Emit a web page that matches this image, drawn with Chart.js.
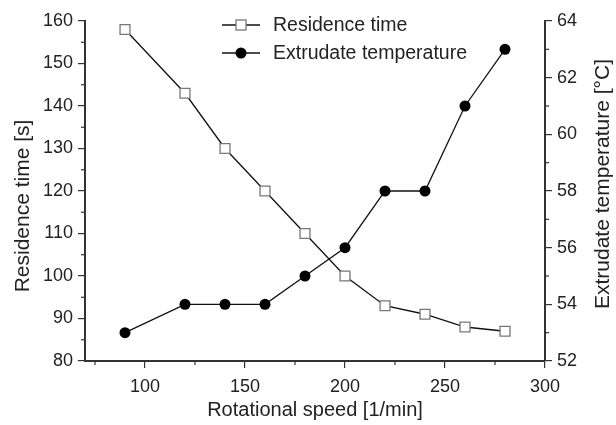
<!DOCTYPE html>
<html>
<head>
<meta charset="utf-8">
<script src="https://cdn.jsdelivr.net/npm/chart.js@4/dist/chart.umd.min.js"></script>
<style>
  html, body { margin: 0; padding: 0; background: #fff; }
  #wrap { width: 616px; height: 425px; }
</style>
</head>
<body>
<div id="wrap"><canvas id="chart" width="616" height="425"></canvas></div>
<script>
// Données
const speeds = [90, 120, 140, 160, 180, 200, 220, 240, 260, 280];
const residenceTime = [158, 143, 130, 120, 110, 100, 93, 91, 88, 87];
const extrudateTemp = [53, 54, 54, 54, 55, 56, 58, 58, 61, 63];

const xTicks = [100, 150, 200, 250, 300];
const leftTicks = [80, 90, 100, 110, 120, 130, 140, 150, 160];
const rightTicks = [52, 54, 56, 58, 60, 62, 64];

const FONT = "'Liberation Sans', Arial, sans-serif";
const INK = '#222';

// petites graduations entre les grandes
const minorTicks = {
    id: 'minorTicks',
    afterDraw(chart) {
        const ctx = chart.ctx;
        const area = chart.chartArea;
        ctx.save();
        ctx.strokeStyle = '#333';
        ctx.lineWidth = 1.2;
        const draw = (scale, ticks, dir) => {
            const step = ticks[1] - ticks[0];
            for (let v = ticks[0] - step / 2; v <= scale.max; v += step) {
                if (v < scale.min) continue;
                const p = scale.getPixelForValue(v);
                ctx.beginPath();
                if (dir === 'bottom') {
                    ctx.moveTo(p, area.bottom);
                    ctx.lineTo(p, area.bottom + 4);
                } else if (dir === 'left') {
                    ctx.moveTo(area.left, p);
                    ctx.lineTo(area.left - 4, p);
                } else {
                    ctx.moveTo(area.right, p);
                    ctx.lineTo(area.right + 4, p);
                }
                ctx.stroke();
            }
        };
        draw(chart.scales.x, xTicks, 'bottom');
        draw(chart.scales.y, leftTicks, 'left');
        draw(chart.scales.y1, rightTicks, 'right');
        ctx.restore();
    }
};

// titres verticaux (les deux se lisent de bas en haut)
const sideTitles = {
    id: 'sideTitles',
    afterDraw(chart) {
        const ctx = chart.ctx;
        const put = (text, x, y) => {
            ctx.save();
            ctx.translate(x, y);
            ctx.rotate(-Math.PI / 2);
            ctx.fillStyle = INK;
            ctx.font = '21px ' + FONT;
            ctx.textAlign = 'center';
            ctx.textBaseline = 'middle';
            ctx.fillText(text, 0, 0);
            ctx.restore();
        };
        put('Residence time [s]', 23, 206);
        put('Extrudate temperature [°C]', 603, 184);
    }
};

// légende dessinée dans la zone du graphique
const insideLegend = {
    id: 'insideLegend',
    afterDraw(chart) {
        const ctx = chart.ctx;
        const rows = [
            { ds: chart.data.datasets[0], y: 25 },
            { ds: chart.data.datasets[1], y: 53 }
        ];
        ctx.save();
        rows.forEach(r => {
            ctx.strokeStyle = '#111';
            ctx.lineWidth = 1.3;
            ctx.beginPath();
            ctx.moveTo(222, r.y);
            ctx.lineTo(260, r.y);
            ctx.stroke();
            if (r.ds.pointStyle === 'rect') {
                ctx.fillStyle = '#fff';
                ctx.fillRect(236, r.y - 5, 10, 10);
                ctx.strokeStyle = r.ds.pointBorderColor;
                ctx.lineWidth = r.ds.pointBorderWidth;
                ctx.strokeRect(236, r.y - 5, 10, 10);
            } else {
                ctx.fillStyle = r.ds.pointBackgroundColor;
                ctx.beginPath();
                ctx.arc(241, r.y, 5.5, 0, Math.PI * 2);
                ctx.fill();
            }
            ctx.fillStyle = INK;
            ctx.font = '19.5px ' + FONT;
            ctx.textBaseline = 'middle';
            ctx.fillText(r.ds.label, 273, r.y + 1);
        });
        ctx.restore();
    }
};

const gridCommon = { display: true, drawOnChartArea: false, drawTicks: true, tickLength: 7, color: '#333', lineWidth: 1.2 };
const borderCommon = { display: true, color: '#333', width: 2 };
const tickFont = { family: FONT, size: 18 };

new Chart(document.getElementById('chart'), {
    type: 'line',
    data: {
        labels: speeds,
        datasets: [{
            label: 'Residence time',
            data: speeds.map((s, i) => ({ x: s, y: residenceTime[i] })),
            yAxisID: 'y',
            borderColor: '#111',
            borderWidth: 1.3,
            pointStyle: 'rect',
            pointRadius: 7,
            pointBackgroundColor: '#fff',
            pointBorderColor: '#777',
            pointBorderWidth: 1.3,
            tension: 0
        }, {
            label: 'Extrudate temperature',
            data: speeds.map((s, i) => ({ x: s, y: extrudateTemp[i] })),
            yAxisID: 'y1',
            borderColor: '#111',
            borderWidth: 1.3,
            pointStyle: 'circle',
            pointRadius: 5.5,
            pointBackgroundColor: '#000',
            pointBorderColor: '#000',
            pointBorderWidth: 0,
            tension: 0
        }]
    },
    options: {
        responsive: false,
        animation: false,
        layout: { padding: { top: 21, right: 0, left: 0, bottom: 0 } },
        plugins: {
            legend: { display: false },
            tooltip: { enabled: false }
        },
        scales: {
            x: {
                type: 'linear',
                min: 70,
                max: 300,
                grid: gridCommon,
                border: borderCommon,
                ticks: { color: INK, font: tickFont, padding: 8 },
                afterBuildTicks: s => { s.ticks = xTicks.map(v => ({ value: v })); },
                afterFit: s => { s.height = 64; },
                title: { display: true, text: 'Rotational speed [1/min]', color: INK, font: { family: FONT, size: 20 }, padding: { top: 0, bottom: 3 } }
            },
            y: {
                type: 'linear',
                position: 'left',
                min: 80,
                max: 160,
                grid: gridCommon,
                border: borderCommon,
                ticks: { color: INK, font: tickFont, padding: 5 },
                afterBuildTicks: s => { s.ticks = leftTicks.map(v => ({ value: v })); },
                afterFit: s => { s.width = 85; },
                title: { display: false }
            },
            y1: {
                type: 'linear',
                position: 'right',
                min: 52,
                max: 64,
                grid: gridCommon,
                border: borderCommon,
                ticks: { color: INK, font: tickFont, padding: 5 },
                afterBuildTicks: s => { s.ticks = rightTicks.map(v => ({ value: v })); },
                afterFit: s => { s.width = 71; },
                title: { display: false }
            }
        }
    },
    plugins: [minorTicks, sideTitles, insideLegend]
});
</script>
</body>
</html>
